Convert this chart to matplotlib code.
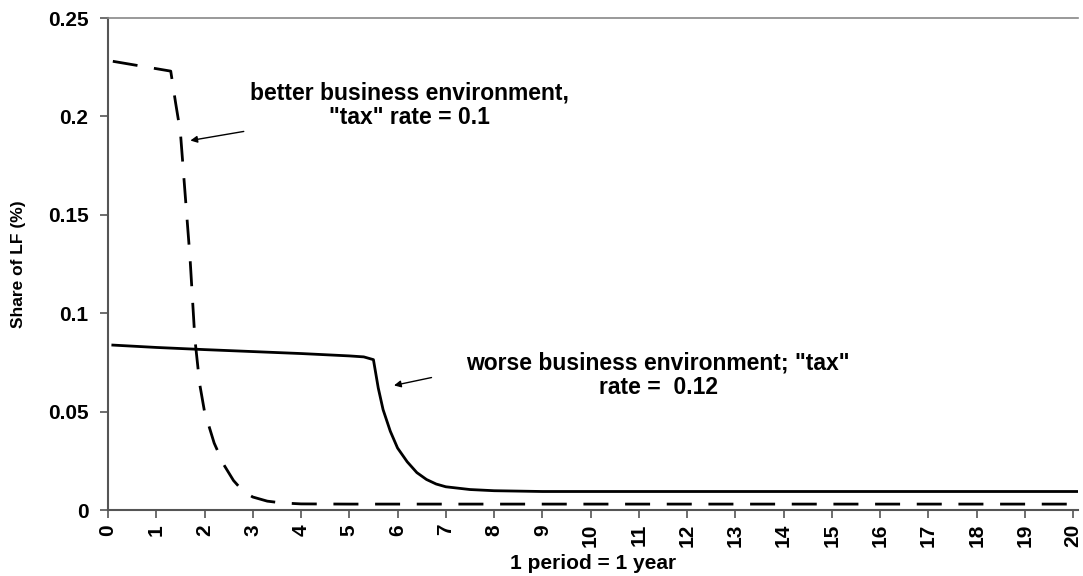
import matplotlib
matplotlib.use("Agg")
import matplotlib.pyplot as plt

# Datos
periodo_mejor = [0.1, 1.3, 1.4, 1.5, 1.6, 1.7, 1.8, 1.9, 2.0, 2.2, 2.4, 2.6, 2.8, 3.0, 3.3, 3.6, 4.0, 5.0, 20.1]
mejor = [0.228, 0.223, 0.207, 0.192, 0.160, 0.128, 0.087, 0.064, 0.050, 0.034, 0.023, 0.015, 0.0095, 0.0066,
         0.0045, 0.0036, 0.0031, 0.003, 0.003]

periodo_peor = [0.1, 1.0, 2.0, 3.0, 4.0, 5.0, 5.3, 5.5, 5.6, 5.7, 5.85, 6.0, 6.2, 6.4, 6.6, 6.8, 7.0, 7.5, 8.0,
                9.0, 20.1]
peor = [0.0838, 0.0826, 0.0815, 0.0805, 0.0795, 0.0783, 0.0778, 0.0764, 0.062, 0.051, 0.040, 0.0315, 0.0245,
        0.019, 0.0155, 0.0132, 0.0118, 0.0104, 0.0098, 0.0094, 0.0094]

xticks = list(range(0, 21))
yticks = [0, 0.05, 0.1, 0.15, 0.2, 0.25]
ytick_labels = ["0", "0.05", "0.1", "0.15", "0.2", "0.25"]

plt.rcParams['font.family'] = ['Liberation Sans', 'DejaVu Sans']
plt.rcParams['font.weight'] = 'bold'

fig = plt.figure(figsize=(10.83, 5.76), dpi=100)
ax = fig.add_axes([108 / 1083, 66 / 576, 970 / 1083, 492 / 576])

ax.plot(periodo_mejor, mejor, color='black', lw=2, ls=(0, (9, 6)))
ax.plot(periodo_peor, peor, color='black', lw=2)

ax.set_xlim(0, 20.1)
ax.set_ylim(0, 0.25)
ax.set_xticks(xticks)
ax.set_xticklabels([str(v) for v in xticks], rotation=90, fontsize=15, fontweight='bold')
ax.set_yticks(yticks)
ax.set_yticklabels(ytick_labels, fontsize=15, fontweight='bold')
ax.tick_params(direction='out', length=6, width=1.2, color='#555555', pad=4)
ax.tick_params(axis='y', pad=8)

for s in ['left', 'bottom']:
    ax.spines[s].set_color('#555555')
    ax.spines[s].set_linewidth(1.5)
ax.spines['right'].set_visible(False)
ax.spines['top'].set_color('#888888')
ax.spines['top'].set_linewidth(1.2)

ax.set_xlabel("1 period = 1 year", fontsize=15, fontweight='bold', labelpad=5)
ax.set_ylabel("Share of LF (%)", fontsize=12.5, fontweight='bold', labelpad=16)

ax.annotate("", xy=(1.65, 0.1875), xytext=(2.87, 0.1926),
            arrowprops=dict(arrowstyle='-|>', color='black', lw=1, mutation_scale=10))
ax.text(6.25, 0.2055, 'better business environment,\n"tax" rate = 0.1', ha='center', va='center',
        fontsize=16.5, fontweight='bold', linespacing=1.1)

ax.annotate("", xy=(5.87, 0.063), xytext=(6.76, 0.0676),
            arrowprops=dict(arrowstyle='-|>', color='black', lw=1, mutation_scale=10))
ax.text(11.4, 0.0685, 'worse business environment; "tax"\nrate =  0.12', ha='center', va='center',
        fontsize=16.5, fontweight='bold', linespacing=1.1)

fig.savefig("out.png", dpi=100)
